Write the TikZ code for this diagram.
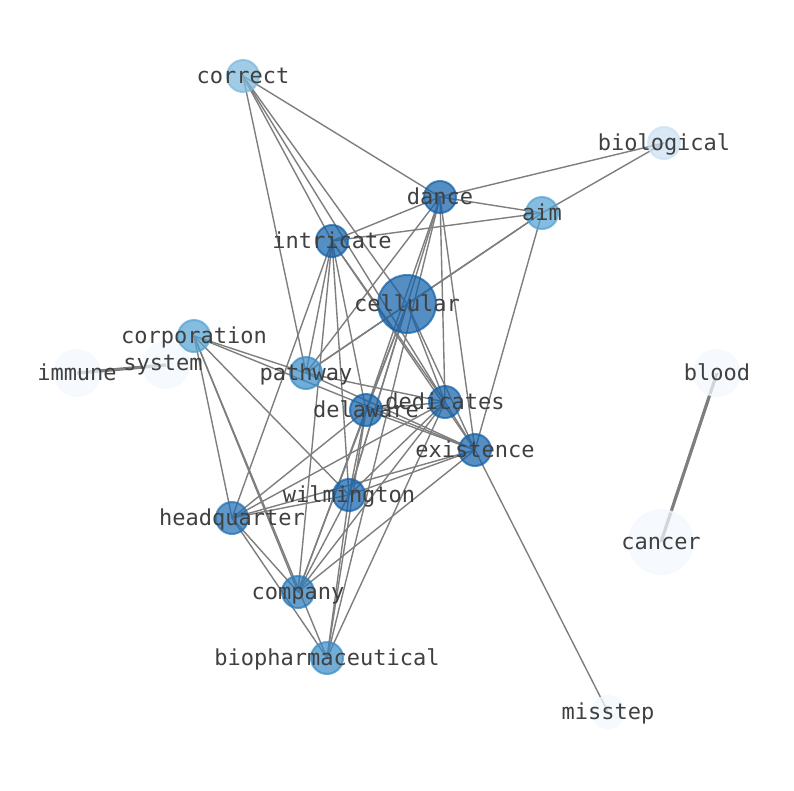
\documentclass[tikz,border=0pt]{standalone}
\usepackage{fontspec}
\setmonofont{DejaVu Sans Mono}
\pgfdeclarelayer{edges}
\pgfsetlayers{edges,main}
\definecolor{cA}{HTML}{1462AA}
\definecolor{cB}{HTML}{226FB4}
\definecolor{cBB}{HTML}{2A7ABB}
\definecolor{cC}{HTML}{3A8DC7}
\definecolor{cD}{HTML}{55A3D2}
\definecolor{cE}{HTML}{7CB9DD}
\definecolor{cF}{HTML}{CCE0F2}
\definecolor{cG}{HTML}{F2F8FE}
\definecolor{edgegray}{HTML}{7E7E7E}
\definecolor{labelgray}{HTML}{404040}
\tikzset{
  vert/.style 2 args={circle, inner sep=0pt, minimum size=#1, fill=#2, draw=#2, line width=2pt, opacity=0.72},
  lbl/.style={font=\ttfamily\fontsize{22}{26}\selectfont, text=labelgray, inner sep=0pt, text height=1.4em, text depth=0em},
  link/.style={draw=edgegray, line width=1.4pt},
  heavylink/.style={draw=edgegray, line width=3.2pt}
}
\begin{document}
\begin{tikzpicture}[x=1pt,y=-1pt]
\useasboundingbox (0,0) rectangle (794,790);
% nodes
\node[vert={32pt}{cE}] (correct) at (243,76) {};
\node[vert={32pt}{cF}] (biological) at (664,143) {};
\node[vert={32pt}{cA}] (dance) at (440,197) {};
\node[vert={32pt}{cD}] (aim) at (542,213) {};
\node[vert={32pt}{cA}] (intricate) at (332,241) {};
\node[vert={58pt}{cA}] (cellular) at (407,304) {};
\node[vert={32pt}{cD}] (corporation) at (194,336) {};
\node[vert={46pt}{cG}] (system) at (166,365) {};
\node[vert={46pt}{cG}] (immune) at (77,373) {};
\node[vert={32pt}{cC}] (pathway) at (306,373) {};
\node[vert={46pt}{cG}] (blood) at (717,373) {};
\node[vert={32pt}{cA}] (delaware) at (366,410) {};
\node[vert={32pt}{cA}] (dedicates) at (445,402) {};
\node[vert={32pt}{cA}] (existence) at (475,450) {};
\node[vert={32pt}{cA}] (wilmington) at (349,495) {};
\node[vert={32pt}{cB}] (headquarter) at (232,518) {};
\node[vert={64pt}{cG}] (cancer) at (661,542) {};
\node[vert={32pt}{cBB}] (company) at (298,592) {};
\node[vert={32pt}{cC}] (biopharmaceutical) at (327,658) {};
\node[vert={32pt}{cG}] (misstep) at (608,712) {};
% edges
\begin{pgfonlayer}{edges}
\foreach \a/\b in {
  correct/dance, correct/intricate, correct/pathway, correct/cellular, correct/dedicates,
  dance/biological, dance/aim, dance/intricate, dance/pathway, dance/delaware,
  dance/wilmington, dance/dedicates, dance/existence, dance/biopharmaceutical,
  aim/biological, aim/intricate, aim/cellular, aim/pathway, aim/existence,
  intricate/dedicates, intricate/existence, intricate/pathway, intricate/wilmington,
  intricate/delaware, intricate/headquarter, intricate/company,
  cellular/pathway, cellular/dedicates, cellular/existence, cellular/wilmington,
  cellular/delaware, cellular/company,
  pathway/dedicates, pathway/existence, corporation/pathway, corporation/existence,
  corporation/wilmington, corporation/headquarter, corporation/company, corporation/biopharmaceutical,
  delaware/dedicates, delaware/existence, delaware/wilmington, delaware/company,
  delaware/biopharmaceutical, delaware/headquarter,
  dedicates/existence, dedicates/wilmington, dedicates/headquarter, dedicates/company,
  dedicates/biopharmaceutical,
  existence/wilmington, existence/headquarter, existence/company, existence/misstep,
  wilmington/headquarter, wilmington/company, wilmington/biopharmaceutical,
  headquarter/company, headquarter/biopharmaceutical}
  {\draw[link] (\a.center) -- (\b.center);}
\draw[heavylink] (immune.center) -- (system.center);
\draw[heavylink] (blood.center) -- (cancer.center);
\end{pgfonlayer}
% labels
\node[lbl] (correct-t) at (correct) {correct};
\node[lbl] (biological-t) at (biological) {biological};
\node[lbl] (dance-t) at (dance) {dance};
\node[lbl] (aim-t) at (aim) {aim};
\node[lbl] (intricate-t) at (intricate) {intricate};
\node[lbl] (cellular-t) at (cellular) {cellular};
\node[lbl] (corporation-t) at (corporation) {corporation};
\node[lbl] (system-t) at (163,363) {system};
\node[lbl] (immune-t) at (immune) {immune};
\node[lbl] (pathway-t) at (pathway) {pathway};
\node[lbl] (blood-t) at (blood) {blood};
\node[lbl] (delaware-t) at (delaware) {delaware};
\node[lbl] (dedicates-t) at (dedicates) {dedicates};
\node[lbl] (existence-t) at (existence) {existence};
\node[lbl] (wilmington-t) at (wilmington) {wilmington};
\node[lbl] (headquarter-t) at (headquarter) {headquarter};
\node[lbl] (cancer-t) at (cancer) {cancer};
\node[lbl] (company-t) at (company) {company};
\node[lbl] (biopharmaceutical-t) at (biopharmaceutical) {biopharmaceutical};
\node[lbl] (misstep-t) at (misstep) {misstep};
\end{tikzpicture}
\end{document}
